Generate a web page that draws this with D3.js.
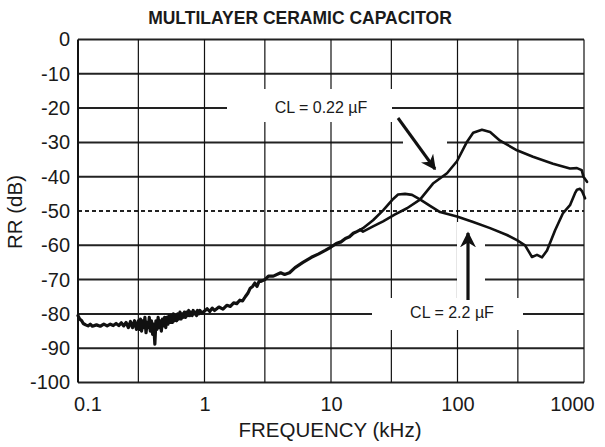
<!DOCTYPE html>
<html><head><meta charset="utf-8">
<script src="https://cdn.jsdelivr.net/npm/d3@7"></script>
<style>body{margin:0;background:#fff}svg{display:block}text{font-family:"Liberation Sans",Arial,sans-serif;fill:#1a1a1a}</style>
</head><body><svg id="c" width="605" height="447"></svg>
<script>
const title = "MULTILAYER CERAMIC CAPACITOR";
const xLabel = "FREQUENCY (kHz)";
const yLabel = "RR (dB)";
const xTicks = [0.1, 1, 10, 100, 1000];
const xGrid = [0.1, 0.3, 1, 3, 10, 30, 100, 300, 1000];
const yTicks = [0, -10, -20, -30, -40, -50, -60, -70, -80, -90, -100];
const seriesNames = ["CL = 0.22 \u00b5F", "CL = 2.2 \u00b5F"];

// shared low-frequency trace (both curves coincide), kHz
const sharedFreq = [
  0.1,0.103,0.107,0.11,0.115,0.12,0.125,0.13,0.14,0.15,0.16,0.17,0.18,0.19,0.2,0.21,0.22,0.23,0.24,0.25,0.26,0.27,0.28,0.29,
  0.30,0.306,0.312,0.318,0.325,0.331,0.338,0.345,0.352,0.359,0.366,0.373,0.381,0.389,0.397,0.405,0.413,0.421,0.43,0.438,
  0.447,0.456,0.465,0.475,0.484,0.494,0.504,0.514,0.524,0.535,0.546,0.557,0.568,0.58,0.591,0.603,0.615,0.628,0.64,0.653,
  0.667,0.68,0.694,0.708,0.722,0.737,0.751,0.766,0.782,0.798,0.814,0.83,0.847,0.864,0.881,0.9,0.92,0.95,1.0,
  1.05,1.1,1.15,1.2,1.3,1.4,1.5,1.6,1.7,1.8,1.9,2.0,2.1,2.2,2.3,2.4,2.5,2.6,2.7,2.8,3.0,3.2,3.5,4.0,4.3,4.7,5.2,6,7,8,9,10,11,12,13,14,15,16,17];
const sharedDb = [
  -80.5,-81.5,-82,-82.8,-83.2,-83.5,-83,-83.6,-83.2,-83.6,-83,-83.5,-83,-83.4,-82.8,-83.4,-82.6,-83.5,-82.5,-84,-82.2,-84,-82,-84.5,
  -82,-84.5,-81.5,-85,-82,-84,-81,-85.5,-82.5,-84,-81,-85,-82,-86,-83,-88.8,-82,-84.5,-81,-84,
  -82,-85,-81.5,-83.5,-81,-84,-81,-83,-80.5,-82.5,-80.5,-82.5,-80,-82,-80.5,-82,-80,-81.5,-79.5,-81.5,
  -80,-81,-79.5,-81,-79.5,-80.5,-79,-80.5,-79.5,-80.5,-79,-80,-79.5,-80.5,-79,-80,-79,-79.8,-79.2,
  -78.5,-79.3,-78.3,-79,-78,-78.6,-77.5,-77.8,-76.8,-77,-76,-76.2,-75,-74,-72.5,-72,-71,-72,-70.5,-70.5,-70,-69,-69,-68,-68.5,-68,-66.5,-65,-63.5,-62.5,-61.5,-60.5,-59.5,-59,-58,-57.5,-56.5,-56,-55.5];

// CL = 0.22 uF branch
const freq022 = [17.9,21.5,25.8,32.1,39.9,50.5,64,82.6,99,119,133,156,181,217,295,395,569,775,880,959,990,1056];
const db022 = [-56,-54.5,-53,-51,-49.2,-46.7,-42,-39,-35.5,-29.8,-27.2,-26.3,-27,-29.5,-32.3,-34.2,-36.2,-37.6,-37.5,-38.1,-40,-41.5];

// CL = 2.2 uF branch
const freq22 = [17.9,21.5,25.8,30.4,33.9,38.5,43.7,50.5,60.7,72.8,99,133,181,246,295,342,388,425,466,510,591,683,775,849,880,930,964,1019];
const db22 = [-55,-52.7,-49.8,-46.8,-45.2,-45,-45.3,-46.6,-48.5,-50.3,-51.6,-53.2,-55,-57,-58.5,-60,-63.4,-62.8,-63.5,-61.5,-55.6,-50.6,-48.3,-44.8,-43.8,-43.5,-44.2,-46.3];

const svg = d3.select("#c");
const L = 78, R = 584, T = 39.5, B = 382.5;
const x = d3.scaleLog().domain([0.1, 1000]).range([L, R]);
const y = d3.scaleLinear().domain([0, -100]).range([T, B]);
const FONT = "Liberation Sans, Arial, sans-serif";

// grid
const g = svg.append("g");
g.selectAll("line.h").data(yTicks).join("line")
  .attr("x1", L).attr("x2", R).attr("y1", d => y(d)).attr("y2", d => y(d))
  .attr("stroke", "#222").attr("stroke-width", 2)
  .attr("stroke-dasharray", d => d === -50 ? "4,3" : null);
g.selectAll("line.v").data(xGrid).join("line")
  .attr("x1", d => x(d)).attr("x2", d => x(d)).attr("y1", T).attr("y2", B)
  .attr("stroke", "#111").attr("stroke-width", d => d === 0.1 ? 2 : 1.2);

// annotation boxes (white knock-outs)
const boxes = [
  [227, 89, 165, 33], [403, 134, 44, 16],
  [372, 298, 151, 32], [457, 222, 28, 76]
];
svg.append("g").selectAll("rect").data(boxes).join("rect")
  .attr("x", d => d[0]).attr("y", d => d[1]).attr("width", d => d[2]).attr("height", d => d[3])
  .attr("fill", "#fff");

// curves
const line = d3.line().x(d => x(d[0])).y(d => y(d[1])).curve(d3.curveLinear);
const shared = sharedFreq.map((f, i) => [f, sharedDb[i]]);
const last = shared[shared.length - 1];
const b022 = [last].concat(freq022.map((f, i) => [f, db022[i]]));
const b22 = [last].concat(freq22.map((f, i) => [f, db22[i]]));
const cg = svg.append("g").attr("fill", "none").attr("stroke", "#111")
  .attr("stroke-linejoin", "round").attr("stroke-linecap", "round");
cg.selectAll("path.br").data([b022, b22]).join("path").attr("class", "br")
  .attr("d", line).attr("stroke-width", 2.6);
cg.append("path").datum(shared).attr("d", line).attr("stroke-width", 3.2);

// axes labels
const yAxis = d3.axisLeft(y).tickValues(yTicks).tickSize(0).tickPadding(8).tickFormat(d => d);
const ya = svg.append("g").attr("transform", `translate(${L},0)`).call(yAxis);
ya.select(".domain").remove();
ya.selectAll("text").attr("font-size", 20).attr("fill", "#1a1a1a").style("font-family", FONT);

const xAxis = d3.axisBottom(x).tickValues(xTicks).tickSize(0).tickPadding(14).tickFormat(d => d);
const xa = svg.append("g").attr("transform", `translate(0,${B})`).call(xAxis);
xa.select(".domain").remove();
xa.selectAll("text").attr("font-size", 20).attr("fill", "#1a1a1a").style("font-family", FONT)
  .attr("dx", d => d === 0.1 ? 9.5 : d === 1000 ? -12 : 0);

svg.append("text").attr("x", 300).attr("y", 24).attr("text-anchor", "middle")
  .attr("font-size", 17.5).attr("font-weight", "bold").text(title);
svg.append("text").attr("x", 330).attr("y", 437).attr("text-anchor", "middle")
  .attr("font-size", 20.5).text(xLabel);
svg.append("text").attr("transform", "translate(22,212) rotate(-90)").attr("text-anchor", "middle")
  .attr("font-size", 20.5).text(yLabel);

// annotations
svg.append("text").attr("x", 321).attr("y", 113).attr("text-anchor", "middle").attr("font-size", 16).text(seriesNames[0]);
svg.append("text").attr("x", 452).attr("y", 318).attr("text-anchor", "middle").attr("font-size", 16).text(seriesNames[1]);

const defs = svg.append("defs");
defs.append("marker").attr("id", "ah").attr("viewBox", "0 0 10 10").attr("refX", 9).attr("refY", 5)
  .attr("markerWidth", 5).attr("markerHeight", 5).attr("orient", "auto")
  .append("path").attr("d", "M0,0 L10,5 L0,10 L3,5 Z").attr("fill", "#111");
svg.append("line").attr("x1", 398).attr("y1", 118).attr("x2", 435).attr("y2", 169)
  .attr("stroke", "#111").attr("stroke-width", 3).attr("marker-end", "url(#ah)");
svg.append("line").attr("x1", 468).attr("y1", 300).attr("x2", 468).attr("y2", 233)
  .attr("stroke", "#111").attr("stroke-width", 3.2).attr("marker-end", "url(#ah)");
</script></body></html>
